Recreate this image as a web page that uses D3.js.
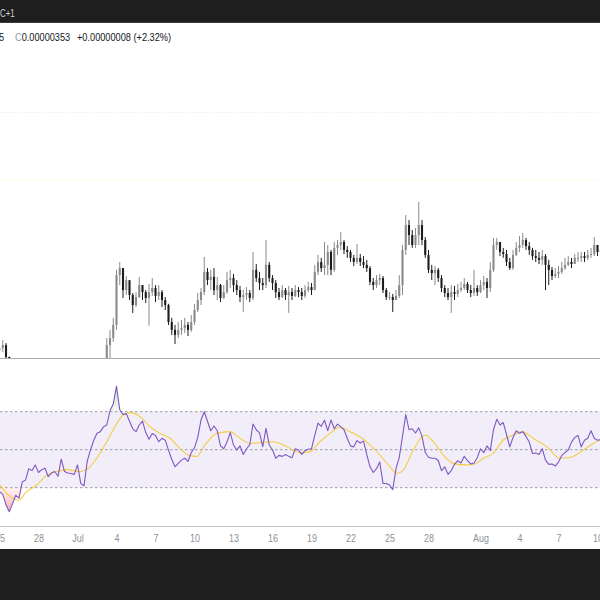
<!DOCTYPE html>
<html>
<head>
<meta charset="utf-8">
<script src="https://cdn.jsdelivr.net/npm/d3@7"></script>
<style>
  html, body { margin: 0; padding: 0; background: #fff; }
  svg { display: block; font-family: "Liberation Sans", Arial, sans-serif; }
</style>
</head>
<body>
<script>
// prices in units of 0.00000001, one candle every 6 hours from Jun 25
const candleStart = "2023-06-25T00:00:00Z";
const candleHours = 6;
const firstOpen = 318.6;
const closes = [
  319.4, 320.4, 316.3, 312, 310, 308, 307, 306, 305, 306,
  307, 307, 308, 309, 309, 310, 310, 309, 310, 311,
  311, 310, 311, 312, 311, 312, 312, 313, 312, 313,
  314, 313, 314, 320.4, 322.8, 327.3, 344.3, 346.7, 339.2, 342.6,
  337.5, 334.1, 336.8, 340.9, 338.5, 336.5, 338.5, 339.9, 337.2, 338.5,
  335.8, 334.1, 328.3, 325.6, 323.9, 325.6, 326.2, 327.3, 325.6, 328.3,
  332.4, 335.8, 338.5, 345.4, 342.6, 343.7, 339.2, 340.9, 336.5, 338.5,
  342.6, 343.3, 340.9, 339.2, 336.8, 337.5, 338.2, 336.5, 346.1, 343.3,
  341.6, 340.9, 347.8, 343.3, 341.6, 338.5, 336.8, 339.2, 337.5, 338.5,
  337.2, 339.2, 338.5, 337.2, 339.2, 340.2, 339.2, 345.4, 348.8, 346.7,
  347.8, 352.2, 346.1, 353.6, 354.6, 355.6, 352.9, 352.2, 350.2, 348.8,
  350.2, 348.8, 347.8, 346.7, 342.0, 340.9, 342.6, 343.3, 339.2, 336.8,
  336.8, 335.8, 337.2, 340.9, 352.9, 361.4, 358.0, 354.6, 358.0, 361.4,
  356.3, 351.2, 346.1, 345.0, 346.1, 343.3, 339.9, 338.2, 336.8, 338.5,
  337.9, 339.2, 339.9, 341.3, 339.2, 338.2, 339.9, 338.5, 340.9, 342.0,
  339.9, 346.1, 354.6, 355.6, 352.2, 351.5, 348.8, 346.7, 351.2, 353.6,
  354.6, 356.3, 354.2, 352.9, 350.8, 350.2, 349.5, 350.8, 347.8, 346.1,
  344.0, 344.7, 345.4, 346.7, 347.8, 348.8, 348.1, 350.2, 350.2, 350.8,
  350.2, 351.2, 351.5, 354.6, 352.2, 353.0
];
const highs = [
  321.5, 322.1, 321.1, 316.5, 312.5, 310.8, 309, 308, 307.2, 307.5,
  308.4, 308.6, 309.5, 310.4, 310.6, 311.4, 311.6, 311, 311.5, 312.6,
  312.8, 311.9, 312.6, 313.5, 312.9, 313.4, 313.6, 314.4, 313.9, 314.5,
  315.2, 314.8, 315.3, 322.8, 325.6, 329.7, 346.1, 348.8, 342.0, 344.0,
  340.9, 338.2, 338.5, 343.7, 340.9, 339.2, 341.3, 343.3, 340.9, 340.9,
  339.2, 336.8, 334.5, 329.7, 327.3, 328.3, 329.0, 329.7, 328.3, 330.7,
  334.5, 338.2, 339.9, 350.5, 346.7, 346.1, 346.7, 343.7, 341.3, 340.9,
  345.4, 346.1, 344.7, 342.6, 340.6, 339.2, 340.2, 339.2, 352.2, 348.1,
  345.4, 343.3, 356.3, 348.8, 344.3, 342.6, 339.9, 340.9, 339.9, 340.6,
  339.9, 340.9, 340.2, 339.9, 340.9, 342.0, 341.6, 347.8, 351.2, 350.2,
  355.6, 354.6, 352.9, 355.6, 356.3, 359.0, 356.3, 354.2, 352.9, 351.2,
  354.9, 351.5, 350.8, 349.5, 347.4, 343.3, 344.3, 344.7, 344.0, 339.9,
  338.5, 337.9, 339.2, 344.3, 354.6, 364.8, 363.1, 359.7, 360.4, 369.3,
  363.1, 357.3, 352.9, 347.8, 347.4, 346.7, 344.3, 340.9, 339.9, 340.9,
  340.6, 341.3, 342.0, 343.3, 342.0, 340.9, 346.1, 340.9, 342.6, 344.0,
  343.3, 348.8, 357.0, 357.0, 355.3, 353.6, 352.9, 350.2, 352.9, 355.6,
  357.7, 358.7, 357.0, 355.6, 353.6, 352.9, 352.2, 352.9, 351.5, 349.5,
  347.1, 346.7, 347.4, 348.8, 350.2, 350.8, 350.2, 351.5, 352.2, 352.2,
  352.2, 352.9, 353.6, 357.3, 354.6, 354.0
];
const lows = [
  318.0, 318.0, 314.6, 311, 309, 306.8, 305.5, 304.7, 303.8, 304.5,
  305.6, 305.8, 306.6, 307.5, 307.8, 308.6, 308.8, 307.7, 308.5, 309.6,
  309.7, 308.8, 309.6, 310.5, 309.8, 310.6, 310.8, 311.6, 310.7, 311.6,
  312.5, 311.8, 312.7, 313.5, 316.0, 321.5, 325.6, 340.9, 336.5, 337.5,
  335.8, 331.4, 333.4, 336.5, 335.8, 334.8, 327.0, 337.2, 335.1, 335.8,
  333.4, 332.4, 327.3, 323.9, 320.8, 322.8, 323.9, 324.5, 323.5, 324.9,
  327.3, 331.7, 334.1, 337.5, 340.9, 339.2, 337.5, 335.8, 335.1, 336.1,
  337.9, 339.9, 338.5, 337.5, 335.1, 331.7, 335.8, 335.1, 335.8, 342.0,
  339.2, 339.2, 339.9, 342.0, 339.2, 336.5, 335.8, 336.5, 335.8, 331.4,
  335.8, 336.8, 336.8, 335.8, 336.5, 338.5, 337.5, 339.2, 344.3, 345.4,
  344.3, 344.3, 344.3, 345.4, 351.2, 352.9, 351.5, 350.2, 348.8, 347.4,
  348.1, 347.4, 346.7, 345.4, 340.9, 339.2, 339.9, 340.9, 338.2, 335.8,
  335.8, 331.7, 335.8, 336.5, 337.5, 351.2, 354.6, 353.6, 353.6, 354.6,
  354.6, 350.2, 345.0, 342.6, 340.9, 342.0, 338.5, 336.8, 335.8, 331.4,
  335.8, 336.8, 338.5, 339.2, 338.2, 336.8, 337.2, 337.2, 338.2, 339.2,
  336.5, 338.5, 345.4, 352.9, 350.8, 350.2, 347.4, 346.1, 346.1, 350.8,
  352.2, 353.6, 352.9, 351.2, 349.5, 348.8, 348.1, 347.8, 339.2, 340.9,
  342.6, 343.3, 343.3, 344.7, 346.1, 347.4, 346.7, 348.1, 348.8, 348.8,
  348.8, 349.5, 350.2, 350.8, 350.8, 351.5
];
const rsiValues = [
  28, 26.5, 21, 17.4, 21.5, 26, 24.5, 33, 34, 40,
  39, 42, 38, 39.5, 40.2, 35.8, 37.7, 38.5, 36, 45,
  38.5, 37.7, 37.5, 37, 42, 32.3, 31, 44, 50, 55,
  58.6, 59.5, 62, 63, 70.5, 74, 83.5, 71, 68.5, 69,
  65, 61, 59.5, 63, 65, 59, 55.5, 58.5, 57.5, 54.2,
  56, 55, 49.8, 45, 41, 42.8, 44.5, 45.5, 43.8, 48.5,
  51, 56.5, 65.6, 70, 65, 60, 62.5, 60, 52, 50.5,
  54, 59, 52.5, 49.8, 52, 47.5, 50.5, 52.5, 63.5, 60.5,
  58.8, 51.6, 61.2, 52.5, 50, 45.5, 47, 46.5, 47.5, 46.5,
  45.7, 50.5, 49.8, 47.5, 49.5, 50.2, 50.5, 57.5, 64, 62.3,
  65.5, 60, 65.6, 61, 63.5, 62, 60.5, 56, 52, 51.5,
  54.8, 53.5, 54.5, 47.5, 41, 38, 40, 43.5, 32.3, 32.2,
  31.4, 29, 40, 46, 57, 68.5, 60.5, 61, 58.8, 61.5,
  57, 48.5, 46, 45.5, 45.5, 44.3, 39, 41, 37, 39,
  42.3, 44.2, 43, 46.5, 44.2, 42.5, 43, 45.8, 50.5, 48.5,
  52, 49.5, 60.5, 66, 63, 64.3, 58, 51.5, 56.4, 60,
  58.6, 59.5, 57, 54, 48, 48.3, 47.5, 50.5, 44.5, 42.3,
  42.5, 41.4, 43.5, 47, 48.5, 49.8, 54, 56.5, 57.5, 51.5,
  55, 56, 60, 56, 55, 55.3
];
// RSI moving average, read at day offsets from Jun 25
const maDay = [
  0.04, 0.68, 1.45, 2.09, 2.86, 3.63, 4.4, 5.17, 6.19, 6.83,
  7.48, 8.25, 8.88, 9.52, 10.17, 10.81, 11.58, 12.35, 13.12, 13.88,
  14.52, 15.17, 15.81, 16.71, 17.73, 18.5, 19.27, 20.04, 21.06, 21.83,
  22.6, 23.12, 23.88, 24.65, 25.42, 26.19, 26.96, 27.73, 28.5, 29.27,
  30.04, 30.55, 31.06, 31.83, 32.73, 33.37, 34.14, 34.91, 35.68, 36.45,
  37.22, 37.98, 38.75, 39.52, 40.17, 41.06, 42.09, 43.12, 43.88, 44.91,
  45.68, 46.19
];
const maValue = [
  31.4, 26.2, 23.5, 27.9, 31.4, 36.6, 38.5, 39.5, 38.5, 40.2,
  45.5, 54.2, 62.1, 68.3, 69.5, 67.4, 62.1, 58.6, 56, 50.7,
  47.2, 46.4, 52.5, 58.6, 59.5, 56, 53.3, 53.7, 54.2, 52.5,
  49.8, 48.4, 49, 54.2, 58.6, 61.8, 59.5, 56.8, 52.5, 47.2,
  41, 37.5, 39.3, 49.8, 57.7, 54.2, 47.2, 42.8, 42, 42.3,
  45.5, 48.1, 55.1, 57.7, 59.5, 56, 51.6, 45.5, 45.9, 49.8,
  53.3, 55.1
];
const tickDates = ["2023-06-25", "2023-06-28", "2023-07-01", "2023-07-04", "2023-07-07", "2023-07-10",
  "2023-07-13", "2023-07-16", "2023-07-19", "2023-07-22", "2023-07-25", "2023-07-28",
  "2023-08-01", "2023-08-04", "2023-08-07", "2023-08-10"];
const tickLabels = ["25", "28", "Jul", "4", "7", "10", "13", "16", "19", "22", "25", "28", "Aug", "4", "7", "10"];
const rsiLevels = [70, 50, 30];
const gridPrices = [400];
const levelPrices = [377];
const headerText = "C+1";
const legendLast = "5";
const legendClose = "0.00000353";
const legendChange = "+0.00000008 (+2.32%)";

const width = 600, height = 600;
const mainTop = 23, mainBottom = 358, rsiTop = 359, rsiBottom = 526.5;

const svg = d3.select("body").append("svg")
    .attr("width", width)
    .attr("height", height);

const defs = svg.append("defs");
defs.append("clipPath").attr("id", "clipMain")
    .append("rect").attr("x", 0).attr("y", mainTop).attr("width", width).attr("height", mainBottom - mainTop);
defs.append("clipPath").attr("id", "clipRsi")
    .append("rect").attr("x", 0).attr("y", rsiTop).attr("width", width).attr("height", rsiBottom - rsiTop);

const t0 = new Date(candleStart).getTime();
const candles = closes.map((c, i) => ({
    t: new Date(t0 + i * candleHours * 3600e3),
    o: i === 0 ? firstOpen : closes[i - 1],
    h: highs[i],
    l: lows[i],
    c: c,
    r: rsiValues[i]
}));

const x = d3.scaleUtc()
    .domain([new Date("2023-06-25T00:00:00Z"), new Date("2023-08-10T00:00:00Z")])
    .range([-0.5, 597.5]);
const y = d3.scaleLinear().domain([316, 400]).range([mainBottom, 112]);
const yR = d3.scaleLinear().domain([30, 70]).range([487.7, 411.7]);

// background bars
svg.append("rect").attr("x", 0).attr("y", 0).attr("width", width).attr("height", 22).attr("fill", "#1e1e1e");
svg.append("line").attr("x1", 0).attr("x2", width).attr("y1", 22.5).attr("y2", 22.5).attr("stroke", "#3d3d3d");
svg.append("text")
    .attr("transform", "translate(0,16.5) scale(0.72,1)")
    .attr("font-size", 11).attr("fill", "#d1d4dc")
    .text(headerText);
svg.append("rect").attr("x", 0).attr("y", 549).attr("width", width).attr("height", 51).attr("fill", "#1e1e1e");

// main pane
const main = svg.append("g").attr("clip-path", "url(#clipMain)");
main.selectAll(".grid").data(gridPrices).join("line")
    .attr("x1", 0).attr("x2", width)
    .attr("y1", d => Math.round(y(d)) + 0.5).attr("y2", d => Math.round(y(d)) + 0.5)
    .attr("stroke", "#e3e4e8").attr("stroke-dasharray", "1,2");
main.selectAll(".level").data(levelPrices).join("line")
    .attr("x1", 0).attr("x2", width)
    .attr("y1", d => Math.round(y(d)) + 0.5).attr("y2", d => Math.round(y(d)) + 0.5)
    .attr("stroke", "#fbefc0").attr("stroke-dasharray", "1,2");

const bw = 2.1;
const upColor = "#8a8a8a", downColor = "#1c1c1c";
main.selectAll(".wick").data(candles).join("line")
    .attr("x1", d => x(d.t)).attr("x2", d => x(d.t))
    .attr("y1", d => y(d.h)).attr("y2", d => y(d.l))
    .attr("stroke", d => d.c >= d.o ? upColor : downColor)
    .attr("stroke-width", 1);
main.selectAll(".body").data(candles).join("rect")
    .attr("x", d => x(d.t) - bw / 2)
    .attr("width", bw)
    .attr("y", d => y(Math.max(d.o, d.c)))
    .attr("height", d => Math.max(1, Math.abs(y(d.o) - y(d.c))))
    .attr("fill", d => d.c >= d.o ? upColor : downColor);

svg.append("line").attr("x1", 0).attr("x2", width).attr("y1", mainBottom + 0.5).attr("y2", mainBottom + 0.5)
    .attr("stroke", "#a9abb5");

// legend
svg.append("text")
    .attr("transform", "translate(-1,41) scale(0.8,1)")
    .attr("font-size", 11.5).attr("fill", "#131722")
    .text(legendLast);
const lg = svg.append("text")
    .attr("transform", "translate(15,41) scale(0.8,1)")
    .attr("font-size", 11.5);
lg.append("tspan").attr("fill", "#9598a1").text("C");
lg.append("tspan").attr("fill", "#131722").text(legendClose);
svg.append("text")
    .attr("transform", "translate(77,41) scale(0.8,1)")
    .attr("font-size", 11.5).attr("fill", "#131722")
    .text(legendChange);

// RSI pane
const rsiG = svg.append("g").attr("clip-path", "url(#clipRsi)");
const obGrad = defs.append("linearGradient").attr("id", "obGrad")
    .attr("gradientUnits", "userSpaceOnUse").attr("x1", 0).attr("x2", 0)
    .attr("y1", yR(100)).attr("y2", yR(70));
obGrad.append("stop").attr("offset", 0).attr("stop-color", "#4caf50").attr("stop-opacity", 0.7);
obGrad.append("stop").attr("offset", 1).attr("stop-color", "#4caf50").attr("stop-opacity", 0.05);
const osGrad = defs.append("linearGradient").attr("id", "osGrad")
    .attr("gradientUnits", "userSpaceOnUse").attr("x1", 0).attr("x2", 0)
    .attr("y1", yR(30)).attr("y2", yR(10));
osGrad.append("stop").attr("offset", 0).attr("stop-color", "#f23645").attr("stop-opacity", 0.05);
osGrad.append("stop").attr("offset", 1).attr("stop-color", "#f23645").attr("stop-opacity", 0.6);

rsiG.append("rect")
    .attr("x", 0).attr("width", width)
    .attr("y", yR(70)).attr("height", yR(30) - yR(70))
    .attr("fill", "#7e57c2").attr("fill-opacity", 0.1);
rsiG.selectAll(".lvl").data(rsiLevels).join("line")
    .attr("x1", 0).attr("x2", width)
    .attr("y1", d => yR(d)).attr("y2", d => yR(d))
    .attr("stroke", "#9598a1").attr("stroke-dasharray", "2.5,2.5");

rsiG.append("path").datum(candles)
    .attr("fill", "url(#obGrad)")
    .attr("d", d3.area().x(d => x(d.t)).y0(yR(70)).y1(d => yR(Math.max(70, d.r))));
rsiG.append("path").datum(candles)
    .attr("fill", "url(#osGrad)")
    .attr("d", d3.area().x(d => x(d.t)).y0(yR(30)).y1(d => yR(Math.min(30, d.r))));

const maPoints = maDay.map((d, i) => ({t: new Date(t0 + d * 86400e3), v: maValue[i]}));
rsiG.append("path").datum(maPoints)
    .attr("fill", "none").attr("stroke", "#f5cc45").attr("stroke-width", 1.1)
    .attr("d", d3.line().x(d => x(d.t)).y(d => yR(d.v)).curve(d3.curveMonotoneX));
rsiG.append("path").datum(candles)
    .attr("fill", "none").attr("stroke", "#7e57c2").attr("stroke-width", 1.1)
    .attr("stroke-linejoin", "round")
    .attr("d", d3.line().x(d => x(d.t)).y(d => yR(d.r)));

// time axis
svg.append("line").attr("x1", 0).attr("x2", width).attr("y1", rsiBottom).attr("y2", rsiBottom)
    .attr("stroke", "#c4c6cc");
const axis = d3.axisBottom(x)
    .tickValues(tickDates.map(d => new Date(d + "T00:00:00Z")))
    .tickFormat((d, i) => tickLabels[i])
    .tickSize(0)
    .tickPadding(8);
const ax = svg.append("g").attr("transform", `translate(0,${rsiBottom})`).call(axis);
ax.select(".domain").remove();
ax.selectAll("text")
    .attr("font-size", 10.5)
    .attr("font-family", "Liberation Sans, Arial, sans-serif")
    .attr("fill", "#8d9099")
    .attr("transform", "scale(0.85,1)");
</script>
</body>
</html>
